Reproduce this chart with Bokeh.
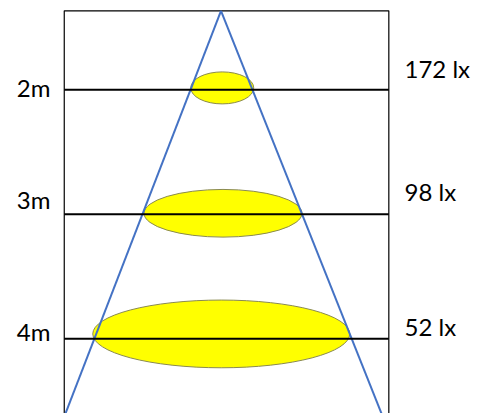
from bokeh.plotting import figure
from bokeh.models import Range1d, ColumnDataSource
from bokeh.core.properties import value
from bokeh.embed import file_html
from bokeh.resources import INLINE

# ---- data ----
heights_m = [2, 3, 4]
height_labels = ["2m", "3m", "4m"]
illuminance_lx = [172, 98, 52]
lux_labels = [f"{v} lx" for v in illuminance_lx]
# light spot (ellipse) at each height, in metres
spot_center_x = [0.010, 0.016, 0.002]
spot_center_y = [1.985, 2.992, 3.961]
spot_width = [0.506, 1.269, 2.064]
spot_height = [0.257, 0.383, 0.544]
# beam cone: apex depth and edge x at the bottom of the view
cone_apex = (0.0, 1.366)
cone_bottom_depth = 4.60
cone_bottom_x = [-1.249, 1.289]
# frame box
frame_left, frame_right, frame_top = -1.259, 1.348, 1.366

PX = 124.5  # screen pixels per metre (layout)
X0, Y0 = 220.5, 213.77  # screen position of x=0, depth=3

W, H = 479, 413
p = figure(width=W, height=H, output_backend="svg", toolbar_location=None,
           x_range=Range1d((0 - X0) / PX, (W - X0) / PX),
           y_range=Range1d(3 + (H - Y0) / PX, 3 + (0 - Y0) / PX),
           min_border=0)
p.axis.visible = False
p.grid.visible = False
p.outline_line_color = None
p.background_fill_color = "white"
p.border_fill_color = "white"

# frame
p.line([frame_left, frame_left, frame_right, frame_right],
       [cone_bottom_depth + 0.2, frame_top, frame_top, cone_bottom_depth + 0.2],
       line_color="black", line_width=1.2)

# light spots
p.ellipse(x=spot_center_x, y=spot_center_y, width=spot_width, height=spot_height,
          fill_color="#FFFF00", line_color="#8a8a50", line_width=1)

# cone
p.segment(x0=[cone_apex[0]] * 2, y0=[cone_apex[1]] * 2,
          x1=cone_bottom_x, y1=[cone_bottom_depth] * 2,
          line_color="#4472C4", line_width=2)

# height lines
n = len(heights_m)
p.segment(x0=[frame_left] * n, y0=heights_m, x1=[frame_right] * n, y1=heights_m,
          line_color="black", line_width=2)

# labels (screen-pixel vertical centres relative to each height line)
h_off_px = [-2.5, -15.0, -7.3]
lx_off_px = [-21.0, -22.3, -12.5]
src_h = ColumnDataSource(dict(x=[(50 - X0) / PX] * n,
                              y=[h + o / PX for h, o in zip(heights_m, h_off_px)],
                              t=height_labels))
src_l = ColumnDataSource(dict(x=[(404 - X0) / PX] * n,
                              y=[h + o / PX for h, o in zip(heights_m, lx_off_px)],
                              t=lux_labels))
p.text(x="x", y="y", text="t", source=src_h, text_font=value("Lato"),
       text_font_size="24px", text_align="right", text_baseline="middle",
       text_color="black")
p.text(x="x", y="y", text="t", source=src_l, text_font=value("Lato"),
       text_font_size="24px", text_align="left", text_baseline="middle",
       text_color="black")

open("out.html", "w").write(file_html(p, INLINE))
